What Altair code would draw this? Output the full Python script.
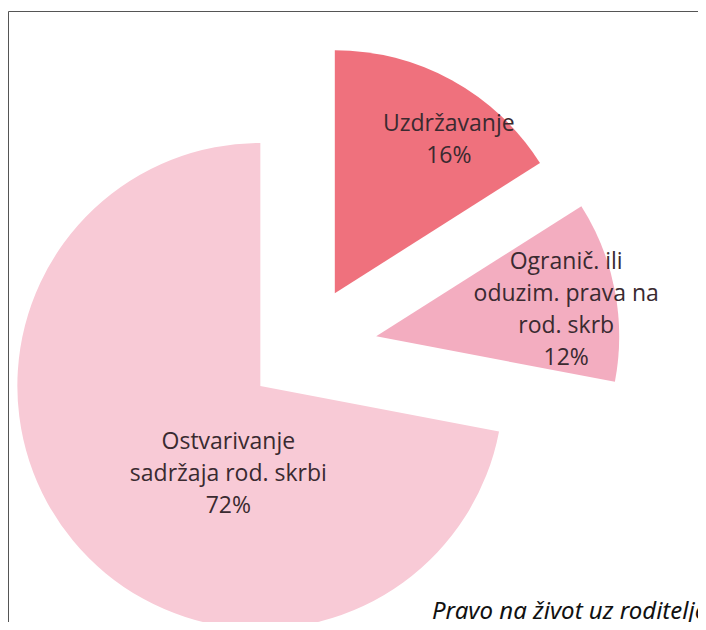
import altair as alt
import pandas as pd

# ---- data ----
categories = ["Uzdržavanje",
              "Ogranič. ili oduzim. prava na rod. skrb",
              "Ostvarivanje sadržaja rod. skrbi"]
label_lines = [["Uzdržavanje"],
               ["Ogranič. ili", "oduzim. prava na", "rod. skrb"],
               ["Ostvarivanje", "sadržaja rod. skrbi"]]
values = [16, 12, 72]
footer_text = "Pravo na život uz roditelje"

# ---- style / layout ----
colors = ["#ef717d", "#f3adc0", "#f8cad6"]
explode = [65, 74, 56]            # px each slice is pulled out
label_dx = [114, 190, -32]        # offset of the label's first line from slice centre
label_dy = [-169, -74, 56]
CX, CY, R = 295.5, 342.2, 243
W, H = 690, 614

df = pd.DataFrame({
    "category": categories,
    "value": values,
    "order": list(range(len(values))),
    "explode": explode,
    "ldx": label_dx,
    "ldy": label_dy,
    "label": ["\n".join(l) + "\n" + f"{v}%" for l, v in zip(label_lines, values)],
})

base = alt.Chart(df).transform_window(
    cum="sum(value)", sort=[alt.SortField("order")], frame=[None, 0]
).transform_joinaggregate(
    total="sum(value)"
).transform_calculate(
    t1="2*PI*datum.cum/datum.total",
    t0="2*PI*(datum.cum-datum.value)/datum.total",
).transform_calculate(
    mid="(datum.t0+datum.t1)/2"
).transform_calculate(
    sx=f"{CX} + datum.explode*sin(datum.mid)",
    sy=f"{CY} - datum.explode*cos(datum.mid)",
).transform_calculate(
    lx="datum.sx + datum.ldx",
    ly="datum.sy + datum.ldy",
)

arcs = base.mark_arc(outerRadius=R).encode(
    x=alt.X("sx:Q", scale=None, axis=None),
    y=alt.Y("sy:Q", scale=None, axis=None),
    theta=alt.Theta("t0:Q", scale=None),
    theta2="t1:Q",
    color=alt.Color("category:N", scale=alt.Scale(domain=categories, range=colors), legend=None),
)

labels = base.mark_text(
    font="Open Sans", fontSize=23, lineBreak="\n", lineHeight=32,
    align="center", baseline="middle", color="#3a2a30",
).encode(
    x=alt.X("lx:Q", scale=None, axis=None),
    y=alt.Y("ly:Q", scale=None, axis=None),
    text="label:N",
)

one = alt.Data(values=[{"t": footer_text}])
frame_top = alt.Chart(one).mark_rule(color="#555555", strokeWidth=1).encode(
    x=alt.value(0.5), x2=alt.value(W), y=alt.value(3.5))
frame_left = alt.Chart(one).mark_rule(color="#555555", strokeWidth=1).encode(
    x=alt.value(0.5), y=alt.value(3.5), y2=alt.value(H))

footer = alt.Chart(one).mark_text(
    font="Noto Sans", fontSize=24, fontStyle="italic", align="left",
    baseline="alphabetic", color="#111111",
).encode(x=alt.value(424), y=alt.value(611), text="t:N")

chart = alt.layer(arcs, labels, frame_top, frame_left, footer).properties(
    width=W, height=H, padding=0, autosize="none",
).configure_view(stroke=None)

chart.save("out.html", embed_options={"renderer": "svg", "actions": False})
